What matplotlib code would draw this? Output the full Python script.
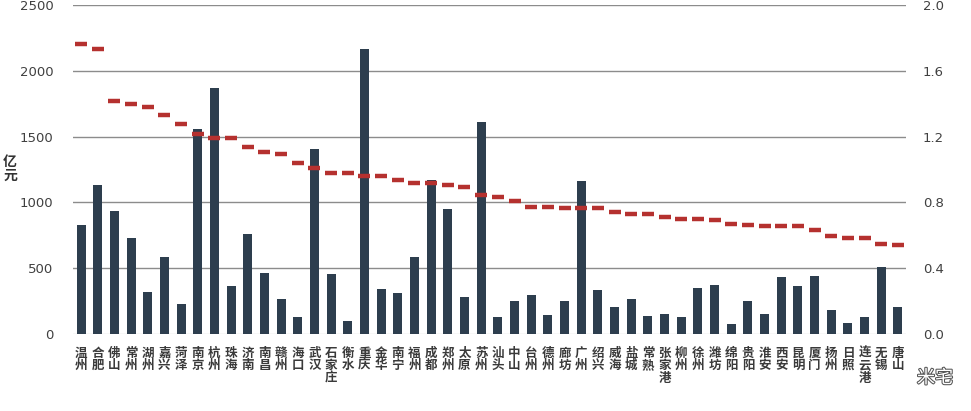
import matplotlib
matplotlib.use("Agg")
import matplotlib.pyplot as plt
import matplotlib.patheffects as pe
import numpy as np

plt.rcParams['font.family'] = ['Noto Sans CJK SC', 'DejaVu Sans']

# city names, GDP increment (亿元), growth multiple (right axis)
cities = ["温州", "合肥", "佛山", "常州", "湖州", "嘉兴", "菏泽", "南京", "杭州", "珠海",
          "济南", "南昌", "赣州", "海口", "武汉", "石家庄", "衡水", "重庆", "金华", "南宁",
          "福州", "成都", "郑州", "太原", "苏州", "汕头", "中山", "台州", "德州", "廊坊",
          "广州", "绍兴", "威海", "盐城", "常熟", "张家港", "柳州", "徐州", "潍坊", "绵阳",
          "贵阳", "淮安", "西安", "昆明", "厦门", "扬州", "日照", "连云港", "无锡", "唐山"]
increment = [825, 1135, 935, 727, 322, 583, 228, 1555, 1872, 367,
             762, 461, 264, 127, 1408, 453, 99, 2163, 342, 314,
             583, 1173, 950, 281, 1613, 127, 253, 296, 142, 253,
             1165, 332, 203, 264, 137, 150, 127, 352, 375, 76,
             253, 152, 436, 367, 443, 185, 81, 127, 512, 203]
ratio = [1.763, 1.733, 1.415, 1.400, 1.380, 1.331, 1.277, 1.216, 1.193, 1.193,
         1.135, 1.104, 1.096, 1.041, 1.007, 0.979, 0.979, 0.960, 0.960, 0.936,
         0.916, 0.920, 0.904, 0.896, 0.845, 0.833, 0.807, 0.772, 0.772, 0.764,
         0.764, 0.764, 0.744, 0.731, 0.731, 0.711, 0.700, 0.700, 0.693, 0.671,
         0.663, 0.655, 0.655, 0.655, 0.632, 0.594, 0.586, 0.586, 0.547, 0.539]

left_ticks = [0, 500, 1000, 1500, 2000, 2500]
right_ticks = [0.0, 0.4, 0.8, 1.2, 1.6, 2.0]

W, H = 971, 411
fig = plt.figure(figsize=(W / 100, H / 100), dpi=100)
ax = fig.add_axes([72.7 / W, 77 / H, 833.6 / W, 329 / H])
x = np.arange(len(cities))

for t in left_ticks[1:]:
    ax.axhline(t, color='#8c8c8c', lw=1.0, zorder=0)
ax.axhline(0, color='#d9d9d9', lw=1.0, zorder=0)

ax.bar(x, increment, width=0.54, color='#2d3e4e', zorder=2)
ax.set_xlim(-0.5, len(cities) - 0.5)
ax.set_ylim(0, 2500)
ax.set_yticks(left_ticks)
ax.set_yticklabels([str(t) for t in left_ticks], fontsize=9.5, color='#404040',
                   family='DejaVu Sans')
ax.tick_params(axis='y', length=0, pad=14)
ax.set_xticks(x)
ax.set_xticklabels(['\n'.join(c) for c in cities], fontsize=9, color='#3a3a3a',
                   fontweight='bold', linespacing=0.95, va='top')
ax.tick_params(axis='x', length=0, pad=9)
for s in ax.spines.values():
    s.set_visible(False)

ax2 = ax.twinx()
ax2.plot(x, ratio, ls='none', marker='_', markersize=9, markeredgewidth=3.2,
         color='#b5312f', zorder=3)
ax2.set_ylim(0, 2.0)
ax2.set_yticks(right_ticks)
ax2.set_yticklabels(['%.1f' % t for t in right_ticks], fontsize=9.5, color='#404040',
                    family='DejaVu Sans')
ax2.tick_params(axis='y', length=0, pad=12)
for s in ax2.spines.values():
    s.set_visible(False)

fig.text(10 / W, 1 - 169 / H, "亿\n元", fontsize=10, color='#333333',
         fontweight='bold', ha='center', va='center', linespacing=1.0)

# watermark
fig.text(935 / W, 1 - 378 / H, "米宅", fontsize=13, color='white',
         ha='center', va='center',
         path_effects=[pe.withStroke(linewidth=1.5, foreground='#555555')])

fig.savefig("out.png", dpi=100)
